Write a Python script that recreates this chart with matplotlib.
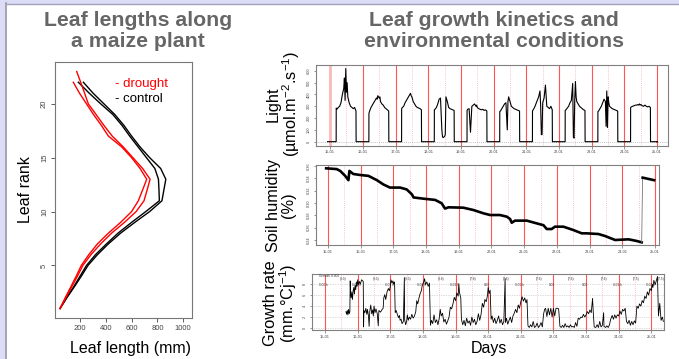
import matplotlib.pyplot as plt
from matplotlib.patches import Rectangle
from matplotlib.lines import Line2D

plt.rcParams['font.family'] = ['Liberation Sans', 'DejaVu Sans']
plt.rcParams['mathtext.fontset'] = 'custom'
plt.rcParams['mathtext.rm'] = 'Liberation Sans'
plt.rcParams['mathtext.it'] = 'Liberation Sans:italic'

# ---- left panel: leaf length per rank ----
ranks_control = list(range(1, 23))
control_1 = [45, 95, 150, 200, 250, 320, 405, 495, 600, 710, 815,
             812, 808, 780, 715, 650, 585, 525, 455, 360, 270, 187]
control_2 = [45, 98, 155, 210, 262, 335, 420, 515, 625, 740, 835,
             850, 865, 825, 740, 665, 600, 540, 470, 385, 300, 226]
ranks_drought_a = list(range(1, 24))
drought_a = [45, 90, 135, 180, 222, 285, 360, 445, 545, 635, 696,
             720, 743, 685, 610, 535, 450, 385, 325, 264, 235, 205, 174]
ranks_drought_b = list(range(1, 23))
drought_b = [45, 85, 128, 170, 210, 268, 335, 420, 515, 600, 652,
             685, 717, 665, 600, 523, 420, 365, 305, 250, 195, 148]

# ---- right panels: time in days after 15-01 ----
day_labels = ['15-01', '16-01', '17-01', '18-01', '19-01', '20-01',
              '21-01', '22-01', '23-01', '24-01', '25-01']

light_hours = [4.5, 5, 6, 7, 8, 9, 10, 10.5, 11, 11.5, 12, 12.5, 13,
               14, 15, 16, 17, 18, 19]
light_days = [
    [285, 275, 290, 300, 330, 400, 450, 540, 350, 620, 420, 500, 380, 330, 300, 290, 280, 290, 260],
    [240, 260, 290, 310, 330, 350, 370, 360, 390, 380, 370, 380, 340, 320, 310, 290, 280, 270, 260],
    [280, 290, 300, 330, 350, 370, 390, 400, 410, 390, 380, 360, 340, 320, 300, 290, 285, 280, 270],
    [270, 275, 290, 320, 360, 370, 100, 40, 35, 40, 45, 60, 380, 340, 290, 280, 275, 270, 265],
    [265, 275, 280, 80, 300, 310, 320, 310, 300, 310, 290, 285, 280, 275, 270, 275, 265, 270, 260],
    [255, 260, 280, 300, 320, 330, 100, 340, 380, 360, 340, 320, 300, 290, 280, 275, 270, 265, 260],
    [260, 270, 290, 320, 350, 380, 430, 300, 60, 60, 330, 350, 370, 480, 300, 290, 280, 300, 270],
    [265, 270, 285, 300, 330, 350, 494, 40, 30, 360, 510, 380, 340, 320, 300, 290, 280, 270, 265],
    [255, 260, 280, 300, 330, 360, 340, 130, 430, 120, 380, 330, 300, 290, 280, 275, 270, 265, 260],
    [290, 295, 300, 305, 310, 310, 315, 310, 320, 310, 315, 310, 305, 300, 310, 300, 295, 300, 290],
]

soil_t = [-0.05, 0.27, 0.38, 0.53, 0.63, 0.66, 0.78, 0.99, 1.24, 1.5, 1.7, 1.9,
          2.21, 2.41, 2.57, 2.62, 2.92, 3.28, 3.48, 3.58, 3.69, 4.14, 4.45, 4.76,
          4.96, 5.26, 5.47, 5.57, 5.62, 5.72, 6.08, 6.38, 6.59, 6.69, 6.84, 6.94,
          7.2, 7.5, 7.76, 7.91, 8.27, 8.47, 8.78, 9.19, 9.44, 9.59]
soil_v = [0.3562, 0.355, 0.352, 0.344, 0.337, 0.352, 0.347, 0.3454, 0.344, 0.337,
          0.330, 0.325, 0.325, 0.322, 0.314, 0.309, 0.307, 0.305, 0.2995, 0.291,
          0.293, 0.2924, 0.2886, 0.2832, 0.2805, 0.2805, 0.2778, 0.274, 0.268,
          0.2714, 0.2714, 0.267, 0.264, 0.2578, 0.2578, 0.2616, 0.2616, 0.2562,
          0.2508, 0.2508, 0.2497, 0.2465, 0.240, 0.2411, 0.2384, 0.2362]
soil_t_after = [9.62, 9.8, 9.97]
soil_v_after = [0.3411, 0.339, 0.337]

growth_t = [0.64, 0.66, 0.68, 0.70, 0.72, 0.74, 0.76, 0.77, 0.78, 0.80, 0.82, 0.84,
            0.86, 0.88, 0.90, 0.92, 0.94, 0.96, 0.98, 1.00, 1.02, 1.05, 1.08, 1.12,
            1.17, 1.18, 1.19, 1.22, 1.25, 1.28, 1.30, 1.33, 1.35, 1.37, 1.40, 1.43,
            1.46, 1.48, 1.50, 1.53, 1.56, 1.60, 1.63, 1.65, 1.70, 1.74, 1.78, 1.80,
            1.83, 1.86, 1.90, 1.94, 1.97, 2.00, 2.02, 2.05, 2.08, 2.10, 2.13, 2.15,
            2.18, 2.22, 2.25, 2.28, 2.30, 2.33, 2.36, 2.40, 2.43, 2.44, 2.47, 2.50,
            2.52, 2.55, 2.58, 2.62, 2.66, 2.70, 2.74, 2.78, 2.81, 2.84, 2.88, 2.91,
            2.95, 2.98, 3.02, 3.05, 3.08, 3.12, 3.16, 3.20, 3.23, 3.26, 3.30, 3.34,
            3.38, 3.42, 3.46, 3.50, 3.53, 3.56, 3.60, 3.64, 3.68, 3.72, 3.76, 3.80,
            3.84, 3.88, 3.92, 3.96, 4.00, 4.04, 4.08, 4.10, 4.12, 4.16, 4.18, 4.22,
            4.26, 4.30, 4.34, 4.38, 4.42, 4.46, 4.50, 4.54, 4.58, 4.62, 4.66, 4.70,
            4.74, 4.78, 4.82, 4.86, 4.90, 4.94, 4.98, 5.00, 5.03, 5.06, 5.09, 5.12,
            5.16, 5.20, 5.24, 5.28, 5.32, 5.36, 5.40, 5.44, 5.48, 5.52, 5.53, 5.56,
            5.60, 5.64, 5.68, 5.72, 5.76, 5.80, 5.84, 5.88, 5.92, 5.96, 6.00, 6.04,
            6.08, 6.12, 6.16, 6.19, 6.22, 6.26, 6.30, 6.34, 6.38, 6.42, 6.46, 6.50,
            6.54, 6.58, 6.62, 6.66, 6.70, 6.73, 6.76, 6.80, 6.84, 6.88, 6.92, 6.96,
            7.00, 7.04, 7.08, 7.12, 7.16, 7.20, 7.24, 7.28, 7.32, 7.36, 7.40, 7.44,
            7.48, 7.52, 7.56, 7.60, 7.64, 7.68, 7.72, 7.76, 7.80, 7.84, 7.88, 7.92,
            7.96, 8.00, 8.04, 8.08, 8.12, 8.16, 8.20, 8.22, 8.25, 8.30, 8.34, 8.38,
            8.42, 8.46, 8.50, 8.54, 8.55, 8.60, 8.64, 8.68, 8.72, 8.75, 8.80, 8.84,
            8.88, 8.92, 8.96, 9.00, 9.04, 9.08, 9.12, 9.16, 9.20, 9.24, 9.28, 9.32,
            9.36, 9.40, 9.44, 9.48, 9.52, 9.56, 9.60, 9.64, 9.68, 9.72, 9.76, 9.80,
            9.84, 9.88, 9.92, 9.96, 10.00, 10.03, 10.05, 10.08, 10.12, 10.16, 10.19,
            10.22, 10.26, 10.30, 10.34, 10.37]
growth_v = [3.0, 2.5, 3.2, 2.4, 3.4, 2.6, 3.0, 8.6, 6.5, 5.5, 6.6, 5.2,
            6.8, 7.4, 6.2, 7.8, 7.0, 8.4, 7.6, 8.8, 7.9, 8.5, 8.0, 8.8,
            8.5, 0.2, 3.2, 2.8, 3.6, 2.5, 3.4, 2.2, 0.3, 3.0, 4.2, 2.6,
            3.3, 2.2, 4.0, 2.8, 3.5, 2.6, 0.4, 3.2, 2.9, 3.3, 3.6, 5.5,
            6.1, 5.2, 6.6, 7.2, 6.8, 7.6, 8.8, 8.2, 8.6, 8.0, 8.4, 2.8,
            3.2, 2.4, 1.9, 2.3, 1.4, 1.6, 0.8, 1.2, 9.2, 1.5, 0.6, 1.2,
            2.4, 1.4, 2.0, 1.6, 2.5, 1.8, 2.2, 3.0, 5.0, 4.4, 5.5, 6.2,
            6.8, 7.8, 8.3, 9.0, 7.9, 8.4, 7.6, 8.2, 0.5, 1.4, 0.8, 2.4,
            1.0, 1.5, 0.6, 1.8, 3.4, 2.2, 2.7, 1.1, 1.6, 0.7, 1.3, 2.0,
            3.8, 3.5, 4.4, 5.6, 5.0, 6.4, 5.8, 8.1, 6.5, 5.5, 1.6, 0.6,
            1.4, 0.4, 1.8, 0.9, 1.3, 0.5, 2.0, 1.0, 1.6, 0.6, 1.2, 2.6,
            1.4, 2.4, 4.5, 3.8, 5.2, 4.8, 6.0, 7.4, 6.3, 6.9, 1.6, 2.2,
            1.0, 1.8, 0.8, 1.4, 2.2, 0.9, 1.6, 0.6, 1.2, 9.0, 1.0, 1.8,
            0.7, 1.4, 2.0, 1.0, 2.2, 2.7, 3.4, 2.8, 4.2, 3.6, 4.8, 5.7,
            4.9, 5.5, 4.6, 5.2, 0.4, 0.1, 0.6, 0.2, 1.2, 0.1, 0.3, 0.9,
            0.1, 0.4, 1.0, 0.2, 2.6, 3.4, 3.6, 2.1, 3.6, 2.4, 3.6, 2.0,
            3.6, 2.2, 3.6, 3.6, 3.5, 0.3, 0.1, 0.5, 0.1, 0.8, 0.2, 0.4,
            0.1, 0.6, 0.2, 0.3, 0.1, 1.0, 0.3, 1.8, 1.6, 2.0, 1.9, 2.5,
            2.0, 2.4, 3.0, 2.6, 3.3, 2.8, 5.4, 3.0, 0.2, 0.1, 0.6, 0.1,
            1.2, 0.2, 0.5, 2.8, 0.3, 0.1, 0.4, 0.1, 0.6, 1.5, 2.3, 1.6,
            2.4, 1.8, 2.4, 2.2, 3.1, 2.5, 3.4, 3.1, 3.6, 1.2, 0.8, 1.4,
            0.5, 1.2, 0.6, 1.3, 0.9, 4.0, 3.6, 4.4, 4.0, 5.0, 4.6, 5.8,
            5.4, 6.6, 6.0, 7.2, 6.8, 8.0, 7.4, 8.7, 7.9, 8.8, 9.4,
            2.2, 4.5, 1.4, 2.0, 1.2]
growth_top_labels = ['(8.0)', '(8.0)', '(8.0)', '(8.8)', '(7.8)', '(7.6)',
                     '(7.6)', '(7.6)', '(7.6)', '(7.5)', '(7.5)']
growth_sub_labels = ['0.00 h', '0.01 h', '0.01 h', '0.01 h', '0.01 h', '0.00',
                     '0.01 h', '0.00', '0.00', '0.01 h', '0.00 h']

W, H = 679, 359
fig = plt.figure(figsize=(W / 100, H / 100), dpi=100)


def box(x0, y0, x1, y1):
    return [x0 / W, 1 - y1 / H, (x1 - x0) / W, (y1 - y0) / H]


# slide background frame
lav = '#dcdcf7'
fig.patches.append(Rectangle((0, 0), 5 / W, 1, transform=fig.transFigure, color=lav, zorder=0))
fig.patches.append(Rectangle((0, 1 - 3 / H), 1, 3 / H, transform=fig.transFigure, color=lav, zorder=0))
fig.lines.append(Line2D([5.5 / W, 5.5 / W], [0, 1 - 3 / H], transform=fig.transFigure, color='#9898a8', lw=1.2))
fig.lines.append(Line2D([5.5 / W, 1], [1 - 3.5 / H, 1 - 3.5 / H], transform=fig.transFigure, color='#a0a0b8', lw=1.0))

title_kw = dict(ha='center', va='center', fontsize=15.3, fontweight='bold', color='#666666', linespacing=1.1)
fig.text(138 / W, 1 - 31 / H, 'Leaf lengths along\na maize plant', **title_kw)
fig.text(494 / W, 1 - 31 / H, 'Leaf growth kinetics and\nenvironmental conditions', **title_kw)

# ---- left plot ----
ax = fig.add_axes(box(55, 62, 192, 318))
ax.plot(control_1, ranks_control, color='black', lw=1.0)
ax.plot(control_2, ranks_control, color='black', lw=1.0)
ax.plot(drought_a, ranks_drought_a, color='red', lw=1.0)
ax.plot(drought_b, ranks_drought_b, color='red', lw=1.0)
ax.set_xlim(6, 1068)
ax.set_ylim(0.12, 23.88)
ax.set_xticks([200, 400, 600, 800, 1000])
ax.set_yticks([5, 10, 15, 20])
ax.tick_params(labelsize=5.5, length=3, width=0.6, pad=2, colors='#444444')
for lab in ax.get_yticklabels():
    lab.set_rotation(90)
    lab.set_va('center')
for s in ax.spines.values():
    s.set_color('#777777')
    s.set_linewidth(0.8)
ax.text(0.44, 0.915, '- drought', transform=ax.transAxes, color='red', fontsize=9.5, va='center')
ax.text(0.44, 0.855, '- control', transform=ax.transAxes, color='black', fontsize=9.5, va='center')
fig.text(25 / W, 1 - 190 / H, 'Leaf rank', rotation=90, ha='center', va='center', fontsize=11.5)
fig.text(130 / W, 1 - 348 / H, 'Leaf length (mm)', ha='center', va='center', fontsize=11.5)


def style_time_axis(a, xlim):
    a.set_xlim(*xlim)
    for d in range(11):
        a.axvline(d, color='#ff5555', lw=0.8, zorder=1)
        if d < 10 or d + 0.5 < xlim[1]:
            a.axvline(d + 0.5, color='#ffb0b0', lw=0.6, ls=(0, (1, 1.5)), zorder=1)
    a.set_xticks(range(11))
    a.set_xticklabels(day_labels)
    a.tick_params(labelsize=2.8, length=1.8, width=0.4, pad=1.5, colors='#444444')
    for lab in a.get_yticklabels():
        lab.set_rotation(90)
        lab.set_va('center')
    for s in a.spines.values():
        s.set_color('#808080')
        s.set_linewidth(0.8)


label_kw = dict(rotation=90, ha='center', va='center', fontsize=11.8,
                linespacing=0.95, multialignment='center')

# ---- light ----
light_t, light_v = [-0.08], [0]
for d, vals in enumerate(light_days):
    light_t += [d + 4.45 / 24]
    light_v += [0]
    light_t += [d + h / 24 for h in light_hours]
    light_v += vals
    light_t += [d + 19.1 / 24, d + 1 + 0.1 / 24]
    light_v += [0, 0]
light_t += [9.98]
light_v += [0]

ax1 = fig.add_axes(box(315.7, 65, 668, 145.7))
ax1.axhline(0, color='#aaaaaa', lw=0.6, ls=(0, (1, 1.5)))
ax1.plot(light_t, light_v, color='black', lw=0.8, zorder=3)
ax1.set_ylim(-34, 650)
ax1.set_yticks([0, 100, 200, 300, 400, 500, 600])
style_time_axis(ax1, (-0.44, 10.33))
ax1.axvline(0, color='#ffb8b8', lw=2.0, zorder=1)
fig.text(284 / W, 1 - 104 / H, 'Light\n(µmol.m$^{-2}$.s$^{-1}$)', **label_kw)

# ---- soil humidity ----
ax2 = fig.add_axes(box(315.7, 165, 659, 245))
ax2.plot(soil_t, soil_v, color='black', lw=1.9, zorder=3)
ax2.plot([soil_t[-1], soil_t_after[0]], [soil_v[-1], soil_v_after[0]], color='#777777', lw=0.6, zorder=3)
ax2.plot(soil_t_after, soil_v_after, color='black', lw=1.9, zorder=3)
ax2.set_ylim(0.2319, 0.3616)
ax2.set_yticks([0.24, 0.26, 0.28, 0.30, 0.32, 0.34, 0.36])
ax2.set_yticklabels(['0.24', '0.26', '0.28', '0.30', '0.32', '0.34', '0.36'])
style_time_axis(ax2, (-0.37, 10.12))
fig.text(281 / W, 1 - 205 / H, 'Soil humidity\n(%)', **label_kw)

# ---- growth rate ----
ax3 = fig.add_axes(box(311.7, 274.3, 664, 330))
for yv in [0, 2, 4, 6, 8]:
    ax3.axhline(yv, color='#bbbbbb', lw=0.5, ls=(0, (1, 1.5)), zorder=1)
ax3.plot(growth_t, growth_v, color='black', lw=0.6, zorder=3)
ax3.set_ylim(-0.36, 9.8)
ax3.set_yticks([0, 2, 4, 6, 8])
style_time_axis(ax3, (-0.41, 10.39))
ax3.text(-0.2, 9.5, 'Growth: 0.000', fontsize=2.3, va='center', color='#333333')
for d, lab in enumerate(growth_top_labels):
    xd = d + 0.55 if d < 10 else 10.3
    ax3.text(xd, 9.0, lab, fontsize=2.3, ha='center', va='center', color='#333333')
for d, lab in enumerate(growth_sub_labels):
    ax3.text(d - 0.04, 7.9, lab, fontsize=2.3, ha='center', va='center', color='#333333')
fig.text(281 / W, 1 - 303 / H, 'Growth rate\n(mm.°Cj$^{-1}$)', **label_kw)
fig.text(489 / W, 1 - 349 / H, 'Days', ha='center', va='center', fontsize=11.5)

fig.savefig('out.png', dpi=100)
